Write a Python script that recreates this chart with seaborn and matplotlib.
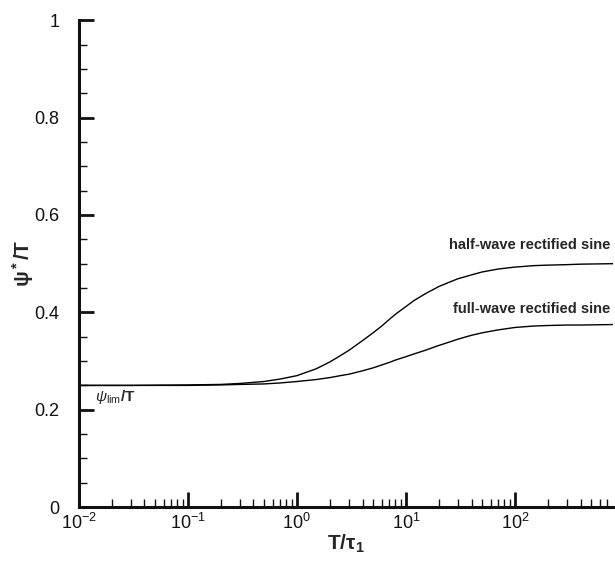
import numpy as np
import pandas as pd
import seaborn as sns
import matplotlib
matplotlib.use("Agg")
import matplotlib.pyplot as plt
from matplotlib.ticker import MultipleLocator, LogLocator, NullFormatter

# Data
T_vals = [0.01, 0.03, 0.1, 0.2, 0.3, 0.5, 0.7, 1, 1.5, 2, 2.5, 3, 4, 5, 6, 7, 8, 10, 12, 15, 20, 25, 30, 40, 50, 70, 100, 150, 200, 300, 400, 800]
half_wave = [0.250, 0.250, 0.251, 0.252, 0.254, 0.258, 0.263, 0.270, 0.284, 0.298, 0.311, 0.322, 0.342, 0.358, 0.372, 0.385, 0.396, 0.412, 0.425, 0.438, 0.453, 0.462, 0.469, 0.477, 0.483, 0.489, 0.493, 0.496, 0.497, 0.498, 0.499, 0.500]
full_wave = [0.250, 0.250, 0.250, 0.251, 0.252, 0.253, 0.255, 0.258, 0.262, 0.266, 0.270, 0.273, 0.280, 0.286, 0.292, 0.297, 0.302, 0.309, 0.315, 0.322, 0.332, 0.339, 0.345, 0.353, 0.358, 0.364, 0.369, 0.372, 0.373, 0.374, 0.374, 0.375]
series_names = ["half-wave rectified sine", "full-wave rectified sine"]

df = pd.concat([
    pd.DataFrame({"T": T_vals, "psi": half_wave, "series": series_names[0]}),
    pd.DataFrame({"T": T_vals, "psi": full_wave, "series": series_names[1]}),
])

sns.set_style("white")
plt.rcParams["font.family"] = ["Liberation Sans", "DejaVu Sans"]
plt.rcParams["mathtext.fontset"] = "custom"
plt.rcParams["mathtext.rm"] = "Liberation Sans"
plt.rcParams["mathtext.it"] = "Liberation Sans:italic"
plt.rcParams["mathtext.bf"] = "Liberation Sans:bold"
plt.rcParams["axes.unicode_minus"] = False

fig = plt.figure(figsize=(6.15, 5.61), dpi=100)
ax = fig.add_axes([0.128, 0.096, 0.869, 0.868])

sns.lineplot(data=df, x="T", y="psi", hue="series", palette=["black", "black"],
             linewidth=1.0, legend=False, ax=ax, sort=True)

ax.set_xscale("log")
ax.set_xlim(0.01, 10**2.9)
ax.set_ylim(0, 1)

ax.yaxis.set_major_locator(MultipleLocator(0.2))
ax.yaxis.set_minor_locator(MultipleLocator(0.05))
ax.yaxis.set_major_formatter(matplotlib.ticker.FuncFormatter(lambda v, p: f"{v:g}"))
ax.xaxis.set_major_locator(LogLocator(base=10, numticks=10))
ax.xaxis.set_minor_locator(LogLocator(base=10, subs=np.arange(2, 10), numticks=20))
ax.xaxis.set_minor_formatter(NullFormatter())

for s in ["top", "right"]:
    ax.spines[s].set_visible(False)
for s in ["left", "bottom"]:
    ax.spines[s].set_linewidth(2.2)
    ax.spines[s].set_color("#111111")

ax.tick_params(which="both", bottom=True, left=True, top=False, right=False)
ax.tick_params(which="major", direction="in", length=11, width=2.0, labelsize=13, colors="#111111")
ax.tick_params(which="minor", direction="in", length=6, width=1.0, colors="#111111")
ax.tick_params(axis="y", which="major", pad=14)
ax.tick_params(axis="x", which="major", pad=4)

ax.set_xlabel(r"T/$\mathbf{\tau_1}$", fontsize=15, fontweight="bold", labelpad=0)
ax.set_ylabel(r"$\mathbf{\psi^*}$/T", fontsize=15, fontweight="bold", va="center")
ax.yaxis.set_label_coords(-0.105, 0.5)

ax.text(0.995, 0.523, series_names[0], transform=ax.transAxes, ha="right", va="bottom",
        fontsize=10.5, fontweight="bold")
ax.text(0.995, 0.392, series_names[1], transform=ax.transAxes, ha="right", va="bottom",
        fontsize=10.5, fontweight="bold")
ax.text(0.014, 0.245, r"$\psi_{\mathrm{lim}}$/T", ha="left", va="top", fontsize=11, fontweight="bold")

fig.savefig("out.png", dpi=100)
